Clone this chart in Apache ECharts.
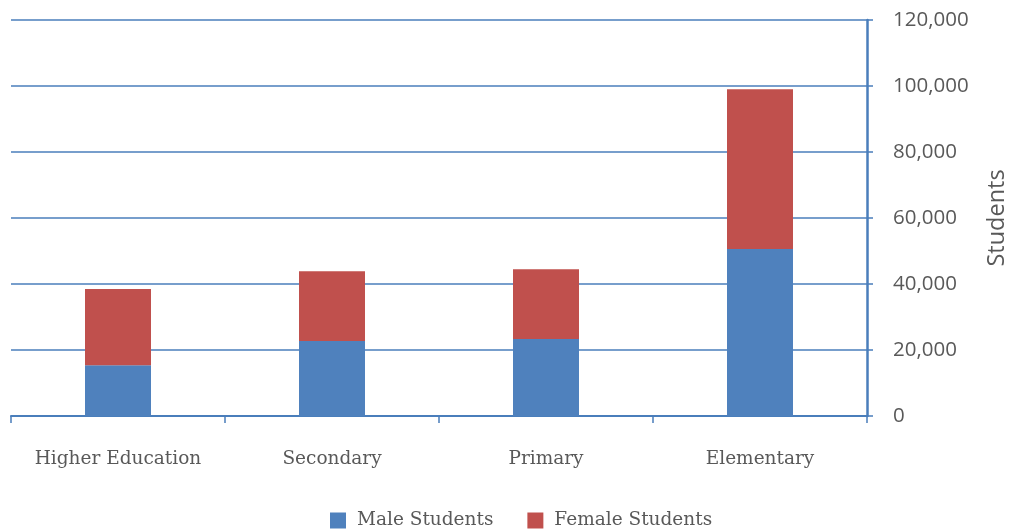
<!DOCTYPE html>
<html>
<head>
<meta charset="utf-8">
<script src="https://cdn.jsdelivr.net/npm/echarts@6/dist/echarts.min.js"></script>
<style>html,body{margin:0;padding:0;background:#fff;}#c{width:1011px;height:532px;}</style>
</head>
<body>
<div id="c"></div>
<script>
const categories = ["Higher Education", "Secondary", "Primary", "Elementary"];
const maleStudents = [15400, 22700, 23300, 50600];
const femaleStudents = [23100, 21200, 21200, 48400];
const yTicks = [0, 20000, 40000, 60000, 80000, 100000, 120000];

const blue = '#4F81BD', red = '#C0504D', axisBlue = '#4A7EBB', txt = '#595959';
const chart = echarts.init(document.getElementById('c'));
chart.setOption({
  animation: false,
  grid: { left: 11, right: 144, top: 20, bottom: 116, containLabel: false, outerBoundsMode: 'none' },
  legend: {
    left: 325, top: 506,
    itemWidth: 16, itemHeight: 16, itemGap: 34,
    icon: 'rect',
    textStyle: { fontFamily: 'DejaVu Serif', fontSize: 18.5, color: txt, padding: [0, 0, 0, 6] },
    data: ['Male Students', 'Female Students']
  },
  xAxis: {
    type: 'category', data: categories,
    axisLine: { lineStyle: { color: axisBlue, width: 2 } },
    axisTick: { show: true, interval: 0, length: 7, lineStyle: { color: axisBlue, width: 1.5 } },
    axisLabel: { interval: 0, margin: 34, fontFamily: 'DejaVu Serif', fontSize: 18.5, color: txt }
  },
  yAxis: {
    type: 'value', position: 'right', min: 0, max: yTicks[yTicks.length - 1], interval: 20000,
    name: 'Students', nameLocation: 'middle', nameRotate: 90, nameGap: 118,
    nameTextStyle: { fontFamily: 'Open Sans', fontSize: 23.5, color: txt },
    axisLine: { show: true, lineStyle: { color: axisBlue, width: 2.5 } },
    axisTick: { show: true, length: 6, lineStyle: { color: axisBlue, width: 1.5 } },
    axisLabel: { margin: 26, fontFamily: 'Open Sans', fontSize: 20.5, color: txt,
      formatter: v => v.toLocaleString('en-US') },
    splitLine: { show: true, lineStyle: { color: axisBlue, width: 1.6 } }
  },
  series: [
    { name: 'Male Students', type: 'bar', stack: 's', data: maleStudents, barWidth: 66,
      itemStyle: { color: blue } },
    { name: 'Female Students', type: 'bar', stack: 's', data: femaleStudents, barWidth: 66,
      itemStyle: { color: red } }
  ]
});
</script>
</body>
</html>
